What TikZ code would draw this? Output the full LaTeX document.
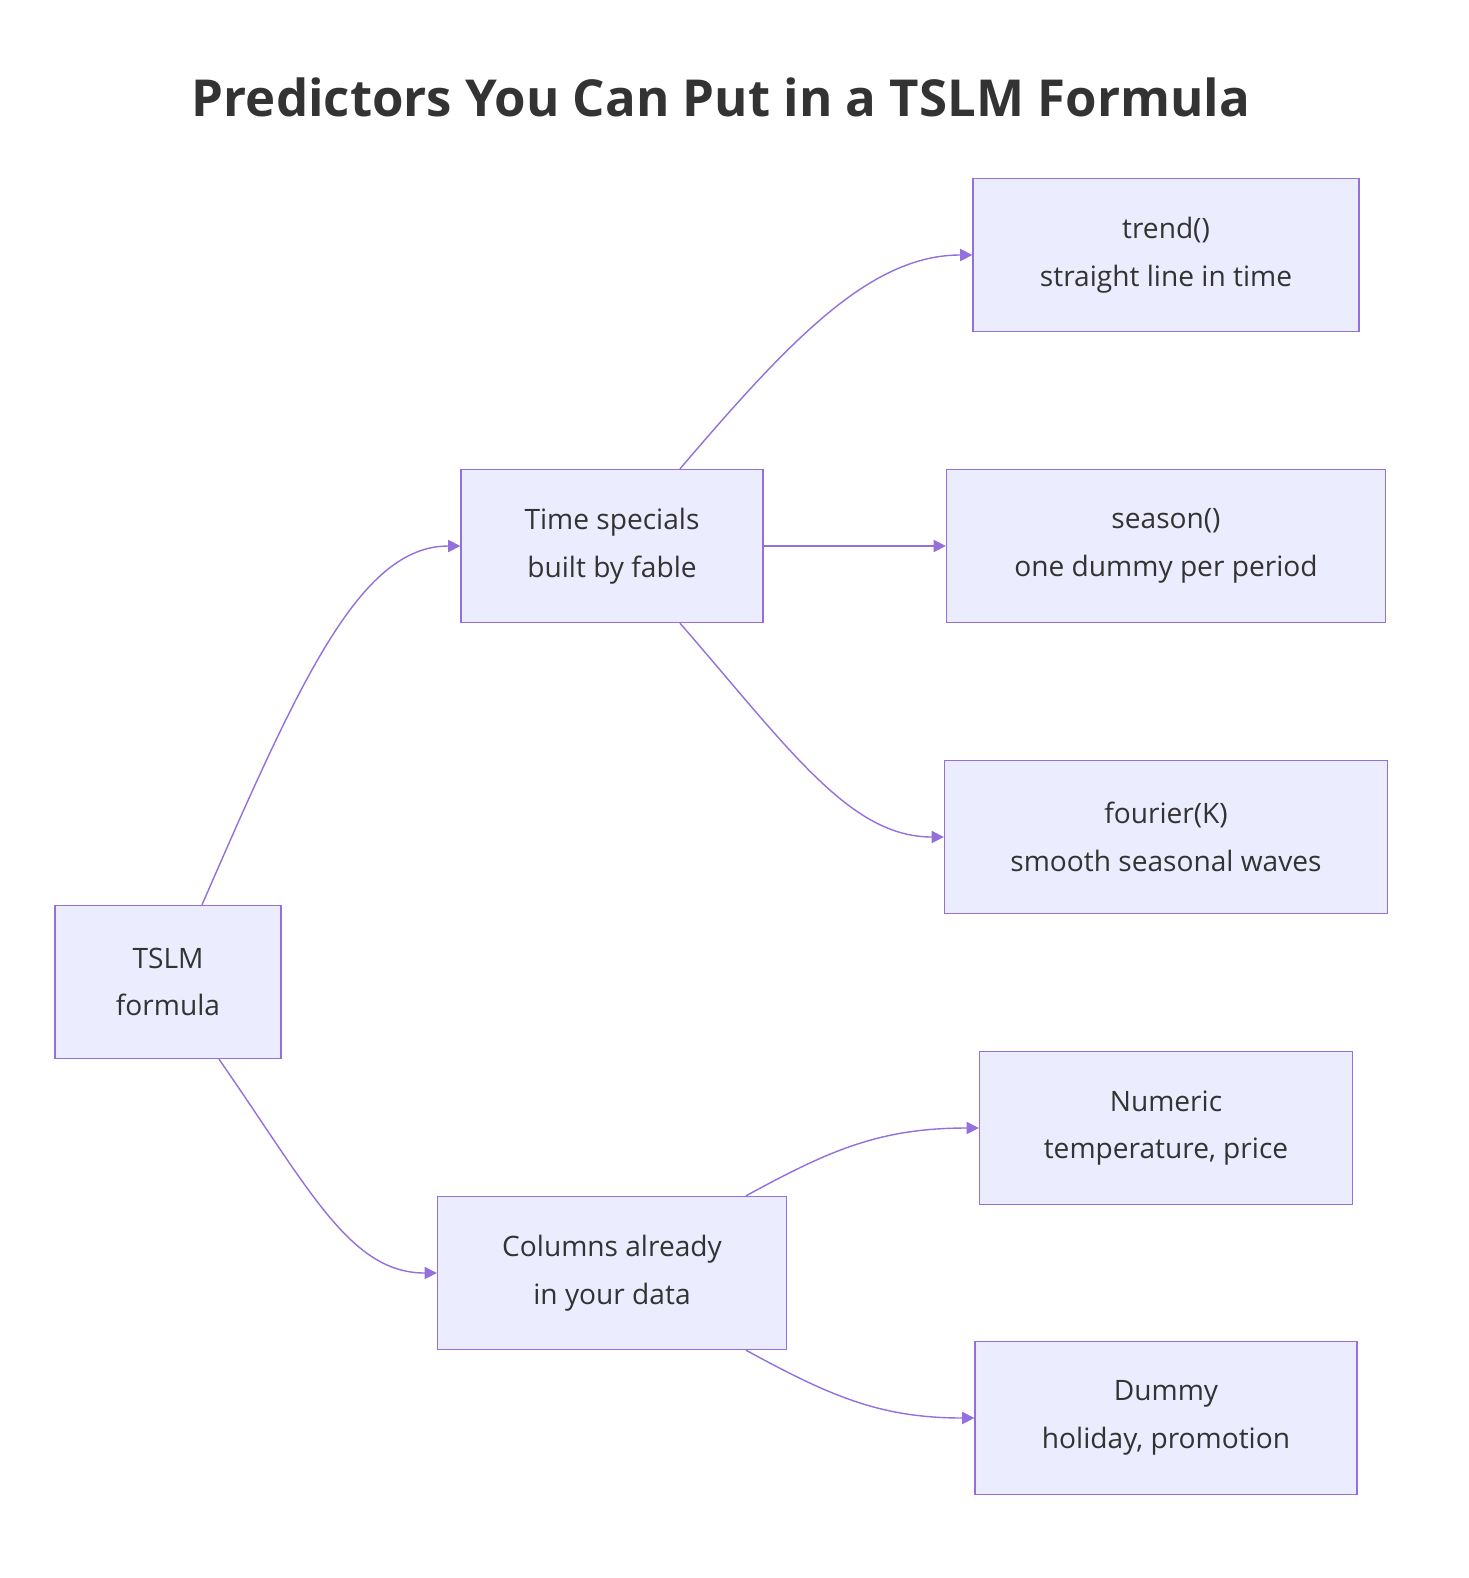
\documentclass[tikz,border=0pt]{standalone}
\usepackage{fontspec}
\setmainfont{Open Sans}
\usetikzlibrary{arrows.meta}
\definecolor{boxfill}{HTML}{ECECFF}
\definecolor{boxline}{HTML}{9370DB}
\definecolor{ink}{HTML}{333333}
\tikzset{
  box/.style={draw=boxline, fill=boxfill, line width=0.8pt, text=ink, align=center,
    font=\fontsize{16}{27}\selectfont, minimum height=3.06cm, inner sep=0pt},
  link/.style={draw=boxline, line width=0.8pt, -{Triangle[length=7pt,width=7pt]}}
}
\begin{document}
\begin{tikzpicture}[x=0.02cm, y=-0.02cm]
            \useasboundingbox (0,0) rectangle (1468,1578);
            \node[text=ink, font=\fontsize{29}{34}\selectfont\bfseries] (title) at (721,97) {Predictors You Can Put in a TSLM Formula};

            \node[box, minimum width=4.52cm] (F) at (168,982) {TSLM\\formula};
            \node[box, minimum width=6.04cm] (T) at (612,546) {Time specials\\built by fable};
            \node[box, minimum width=6.98cm] (C) at (612,1273) {Columns already\\in your data};
            \node[box, minimum width=7.72cm] (TR) at (1166,255) {trend()\\straight line in time};
            \node[box, minimum width=8.78cm] (S) at (1166,546) {season()\\one dummy per period};
            \node[box, minimum width=8.86cm] (K) at (1166,837) {fourier(K)\\smooth seasonal waves};
            \node[box, minimum width=7.46cm] (N) at (1166,1128) {Numeric\\temperature, price};
            \node[box, minimum width=7.64cm] (D) at (1166,1418) {Dummy\\holiday, promotion};

            \draw[link] ([xshift=0.68cm]F.north) .. controls (300,680) and (360,546) .. (T.west);
            \draw[link] ([xshift=1.02cm]F.south) .. controls (310,1190) and (350,1273) .. (C.west);
            \draw[link] ([xshift=1.36cm]T.north) .. controls (790,340) and (870,255) .. (TR.west);
            \draw[link] (T.east) -- (S.west);
            \draw[link] ([xshift=1.36cm]T.south) .. controls (790,750) and (850,837) .. (K.west);
            \draw[link] ([xshift=2.68cm]C.north) .. controls (830,1150) and (880,1128) .. (N.west);
            \draw[link] ([xshift=2.68cm]C.south) .. controls (830,1396) and (880,1418) .. (D.west);
        \end{tikzpicture}
\end{document}
